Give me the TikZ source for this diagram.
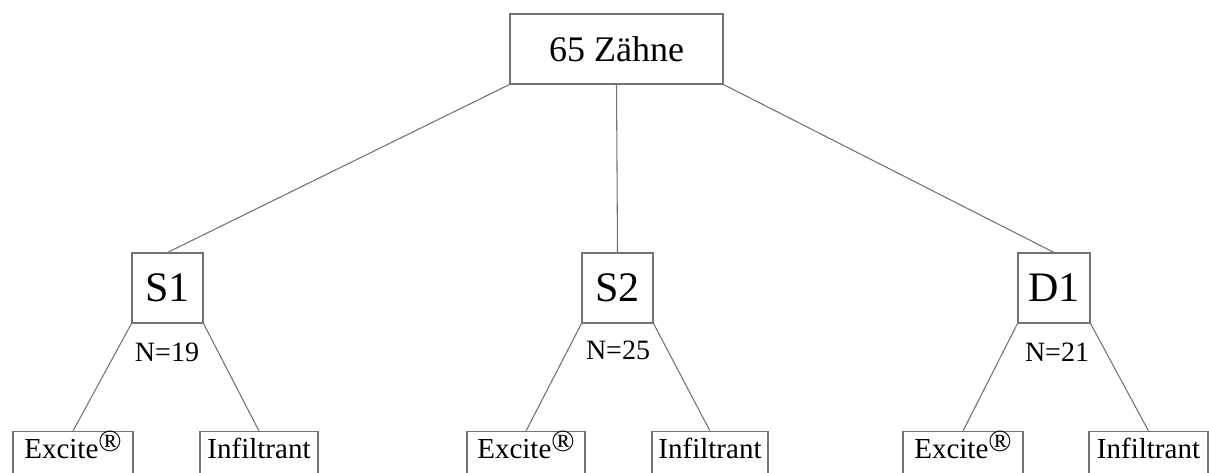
\documentclass[tikz,border=0pt]{standalone}
\usepackage{fontspec}
\setmainfont{Liberation Serif}
\newcommand{\regmark}{\raisebox{5pt}{\fontsize{23}{23}\selectfont\textregistered}}
\begin{document}
\begin{tikzpicture}[x=0.75pt,y=-0.75pt,
  box/.style={draw=black!55,line width=0.8pt,inner sep=0pt,fill=white},
  link/.style={draw=black!55,line width=0.8pt},
  topfont/.style={font=\fontsize{27}{30}\selectfont},
  sfont/.style={font=\fontsize{31.5}{34}\selectfont},
  nfont/.style={font=\fontsize{21}{24}\selectfont,inner sep=0pt},
  leaf/.style={box,anchor=north,minimum height=33pt,text height=0.7em,text depth=0pt,font=\fontsize{21.75}{24}\selectfont}]
\useasboundingbox (0,0) rectangle (1209,473);
\clip (0,0) rectangle (1209,473);
\fill[white] (0,0) rectangle (1209,473);

\node[box,topfont,minimum width=159.75pt,minimum height=52.5pt] (top) at (616.5,49) {65 Zähne};

\node[box,sfont,minimum width=53.25pt,minimum height=52.5pt] (s1) at (167.5,288) {S1};
\node[box,sfont,minimum width=53.25pt,minimum height=52.5pt] (s2) at (617.5,288) {S2};
\node[box,sfont,minimum width=54pt,minimum height=52.5pt] (d1) at (1054,288) {D1};

\node[nfont] (n1) at (167,352) {N=19};
\node[nfont] (n2) at (618,350) {N=25};
\node[nfont] (n3) at (1057,352) {N=21};

\node[leaf,minimum width=90pt] (e1) at (73,431) {Excite\regmark};
\node[leaf,minimum width=88.5pt] (i1) at (259,431) {Infiltrant};
\node[leaf,minimum width=88.5pt] (e2) at (526,431) {Excite\regmark};
\node[leaf,minimum width=87pt] (i2) at (710,431) {Infiltrant};
\node[leaf,minimum width=90pt] (e3) at (963,431) {Excite\regmark};
\node[leaf,minimum width=89.25pt] (i3) at (1148.5,431) {Infiltrant};

\draw[link] (top.south west) -- (s1.north);
\draw[link] (top.south) -- (s2.north);
\draw[link] (top.south east) -- (d1.north);

\draw[link] (s1.south west) -- (e1.north);
\draw[link] (s1.south east) -- (i1.north);
\draw[link] (s2.south west) -- (e2.north);
\draw[link] (s2.south east) -- (i2.north);
\draw[link] (d1.south west) -- (e3.north);
\draw[link] (d1.south east) -- (i3.north);
\end{tikzpicture}
\end{document}
